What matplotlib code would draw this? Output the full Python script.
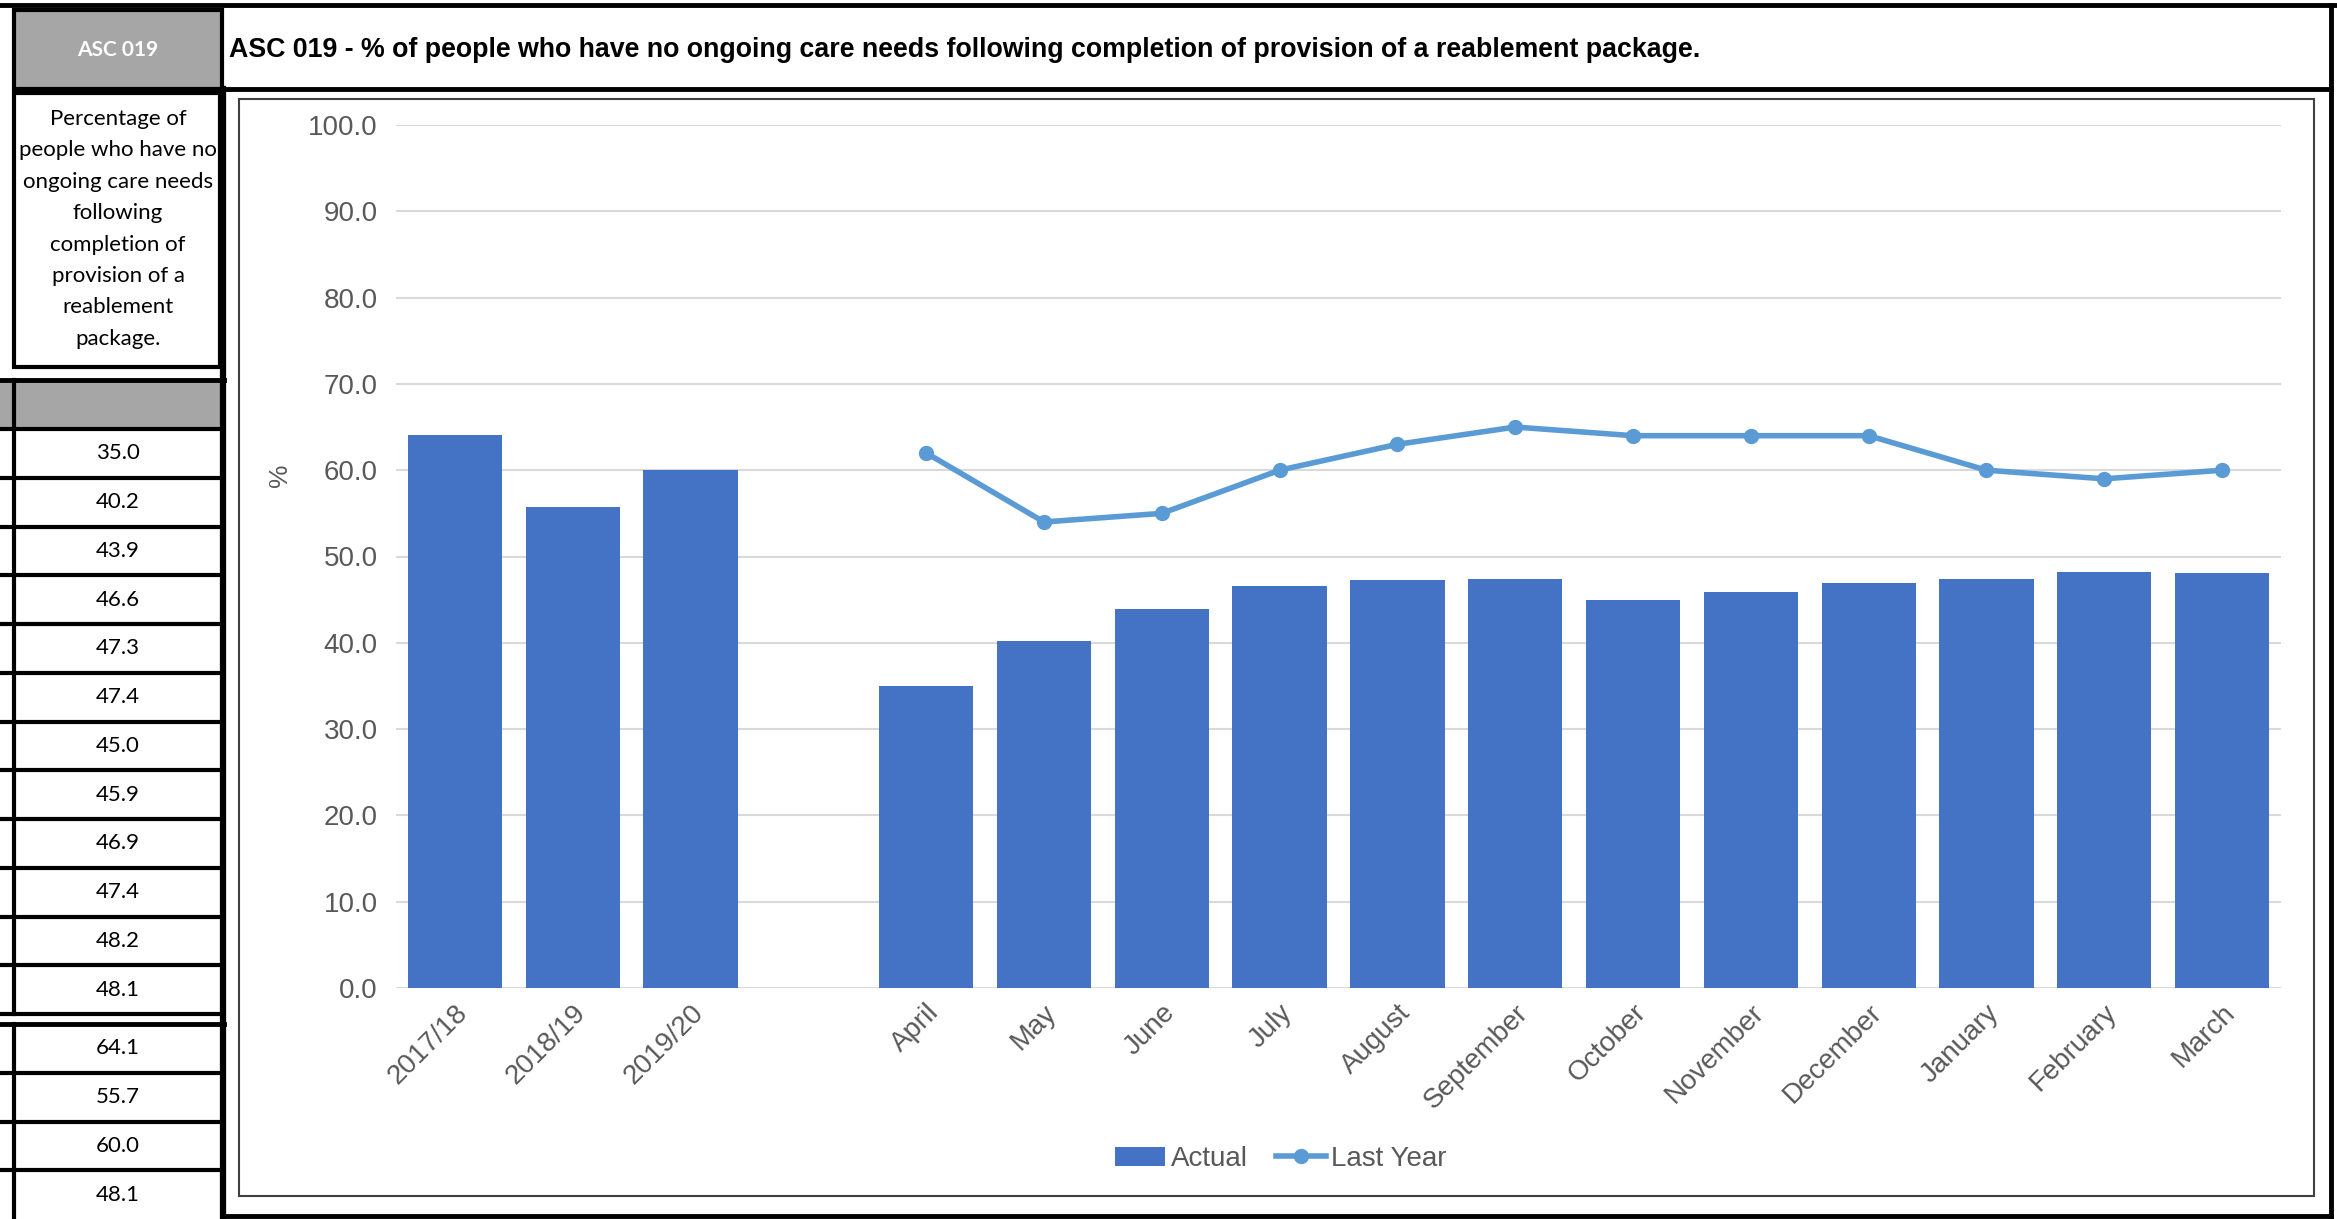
import matplotlib
matplotlib.use("Agg")
import matplotlib.pyplot as plt
import matplotlib.transforms as mtrans
import numpy as np
from matplotlib.patches import Rectangle
from matplotlib.lines import Line2D

# ---- data ----
years = ["2017/18", "2018/19", "2019/20"]
year_actual = [64.1, 55.7, 60.0]
months = ["April", "May", "June", "July", "August", "September", "October",
          "November", "December", "January", "February", "March"]
month_actual = [35.0, 40.2, 43.9, 46.6, 47.3, 47.4, 45.0, 45.9, 46.9, 47.4, 48.2, 48.1]
last_year = [62, 54, 55, 60, 63, 65, 64, 64, 64, 60, 59, 60]
year_table = [64.1, 55.7, 60.0, 48.1]

code = "ASC 019"
title = "ASC 019 - % of people who have no ongoing care needs following completion of provision of a reablement package."
desc = ["Percentage of", "people who have no", "ongoing care needs", "following",
        "completion of", "provision of a", "reablement", "package."]

W, H = 2337, 1219
BAR = "#4472C4"
LINE = "#5B9BD5"
GREY = "#595959"
CHART_FONT = "Liberation Sans"
TABLE_FONT = "Lato"

fig = plt.figure(figsize=(W / 100, H / 100), dpi=100)

# page overlay in pixel coords (y down)
pg = fig.add_axes([0, 0, 1, 1], zorder=0)
pg.set_xlim(0, W)
pg.set_ylim(H, 0)
pg.axis("off")

def hline(x0, x1, y, lw=3):
    pg.add_line(Line2D([x0, x1], [y, y], color="black", lw=lw))

def vline(x, y0, y1, lw=3):
    pg.add_line(Line2D([x, x], [y0, y1], color="black", lw=lw))

# header row
hline(0, W, 5, lw=3.5)
pg.add_patch(Rectangle((14, 10), 208, 79, facecolor="#A6A6A6", edgecolor="black", lw=3))
pg.text(118, 50, code, color="white", fontsize=15, fontweight="bold",
        family=TABLE_FONT, ha="center", va="center")
hline(14, 2331, 89, lw=3.5)
pg.text(229, 50, title, fontsize=19.3, fontweight="bold", family=CHART_FONT,
        ha="left", va="center")
vline(2331, 5, H, lw=3.5)

# description box
pg.add_patch(Rectangle((14, 93), 206, 274, facecolor="white", edgecolor="black", lw=3))
for i, s in enumerate(desc):
    pg.text(118, 119 + i * 31.4, s, fontsize=16, family=TABLE_FONT,
            ha="center", va="center")

# grey row + value rows
pg.add_patch(Rectangle((0, 380), 222, 48, facecolor="#A6A6A6", edgecolor="none"))
hline(0, 224, 380, lw=3.5)
row_h = 48.75
top1 = 429
for i, v in enumerate(month_actual):
    y = top1 + i * row_h
    hline(0, 222, y)
    pg.text(118, y + row_h / 2, f"{v:.1f}", fontsize=16, family=TABLE_FONT,
            ha="center", va="center")
hline(0, 222, top1 + 12 * row_h)
top2 = 1024
hline(0, 224, top2, lw=3.5)
for i, v in enumerate(year_table):
    y = top2 + i * row_h
    if i:
        hline(0, 222, y)
    pg.text(118, y + row_h / 2, f"{v:.1f}", fontsize=16, family=TABLE_FONT,
            ha="center", va="center")
vline(14, 380, top1 + 12 * row_h)
vline(14, top2, H)
vline(223, 89, H, lw=4.5)
hline(223, 2331, 1216, lw=3.5)

# chart panel border
pg.add_patch(Rectangle((239, 99), 2075, 1097, facecolor="white", edgecolor="#404040", lw=1.5))
pg.text(280, 475, "%", rotation=90, color=GREY, fontsize=19, family=CHART_FONT,
        ha="center", va="center")

# ---- chart ----
cats = years + [""] + months
actual = year_actual + [np.nan] + month_actual
x = np.arange(len(cats))
xm = x[4:]

ax = fig.add_axes([396 / W, 1 - 988 / H, (2281 - 396) / W, (988 - 125) / H], zorder=2)
ax.patch.set_alpha(0)
bars = ax.bar(x, actual, width=0.8, color=BAR, label="Actual", zorder=2)
line, = ax.plot(xm, last_year, color=LINE, lw=4, marker="o", markersize=10,
                label="Last Year", zorder=3)
ax.set_xlim(-0.5, len(cats) - 0.5)
ax.set_ylim(0, 100)
ax.set_yticks(np.arange(0, 101, 10))
ax.set_yticklabels([f"{t:.1f}" for t in np.arange(0, 101, 10)])
ax.yaxis.grid(True, color="#D9D9D9", lw=1.5, zorder=0)
ax.set_axisbelow(True)
for s in ax.spines.values():
    s.set_visible(False)
ax.tick_params(length=0, colors=GREY, labelsize=20, pad=13)
ax.set_xticks(x)
ax.set_xticklabels(cats, rotation=45, ha="right", va="center", rotation_mode="anchor")
ax.tick_params(axis="x", pad=15)
shift = mtrans.ScaledTranslation(9 / 100, 0, fig.dpi_scale_trans)
for lab in ax.get_xticklabels():
    lab.set_transform(lab.get_transform() + shift)
for lab in ax.get_xticklabels() + ax.get_yticklabels():
    lab.set_family(CHART_FONT)

leg = fig.legend([bars, line], ["Actual", "Last Year"], loc="center",
                 bbox_to_anchor=(1281 / W, 1 - 1159 / H), ncol=2,
                 frameon=False, prop={"family": CHART_FONT, "size": 20},
                 handlelength=1.8, handletextpad=0.2, columnspacing=1.0)
for t in leg.get_texts():
    t.set_color(GREY)

fig.savefig("out.png", dpi=100)
